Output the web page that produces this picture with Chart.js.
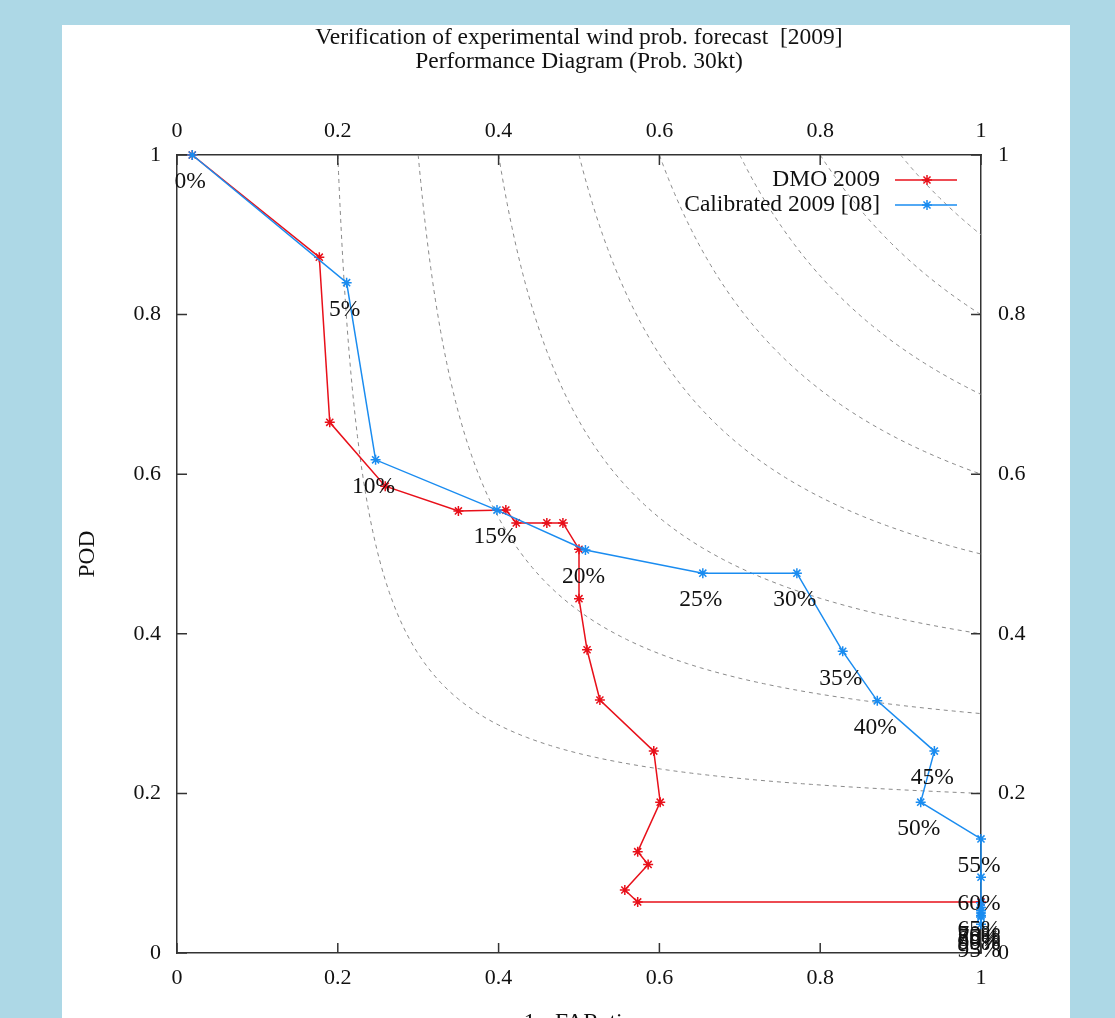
<!DOCTYPE html>
<html><head><meta charset="utf-8">
<script src="https://cdn.jsdelivr.net/npm/chart.js@4.4.1/dist/chart.umd.min.js"></script>
<style>html,body{margin:0;padding:0;background:#add8e6;overflow:hidden}canvas{display:block}</style>
</head><body>
<canvas id="c" width="1115" height="1018"></canvas>
<script>
const titleLines = ['Verification of experimental wind prob. forecast  [2009]', 'Performance Diagram (Prob. 30kt)'];
const xTitle = '1 - FARatio';
const yTitle = 'POD';
const tickValues = [0, 0.2, 0.4, 0.6, 0.8, 1];
const tickLabels = ['0', '0.2', '0.4', '0.6', '0.8', '1'];
const seriesNames = ['DMO 2009', 'Calibrated 2009 [08]'];
const seriesColors = ['#e8101a', '#1a8cf0'];
const dmoX = [0.019, 0.177, 0.190, 0.259, 0.350, 0.409, 0.422, 0.460, 0.480, 0.500, 0.500, 0.510, 0.526, 0.593, 0.601, 0.573, 0.586, 0.557, 0.573, 1.0];
const dmoY = [1.000, 0.872, 0.665, 0.585, 0.554, 0.555, 0.539, 0.539, 0.539, 0.506, 0.444, 0.380, 0.317, 0.253, 0.189, 0.127, 0.111, 0.079, 0.064, 0.064];
const calX = [0.019, 0.211, 0.247, 0.398, 0.508, 0.654, 0.771, 0.828, 0.871, 0.942, 0.925, 1.0, 1.0, 1.0, 1.0, 1.0, 1.0, 1.0, 1.0, 1.0];
const calY = [1.000, 0.840, 0.618, 0.555, 0.505, 0.476, 0.476, 0.378, 0.316, 0.253, 0.189, 0.143, 0.095, 0.063, 0.057, 0.053, 0.050, 0.047, 0.045, 0.036];
const calLabels = ['0%', '5%', '10%', '15%', '20%', '25%', '30%', '35%', '40%', '45%', '50%', '55%', '60%', '65%', '70%', '75%', '80%', '85%', '90%', '95%'];
const csiLevels = [0.2, 0.3, 0.4, 0.5, 0.6, 0.7, 0.8, 0.9];

const FONT = 'Liberation Serif';
const TXT = 23.5;
const toPts = (xs, ys) => xs.map((x, i) => ({x: x, y: ys[i]}));

// CSI isolines: POD = 1 / (1/CSI + 1 - 1/SR), SR from CSI to 1
function csiCurve(c) {
  const pts = [];
  const n = 120;
  for (let i = 0; i <= n; i++) {
    const t = i / n;
    const sr = c + (1 - c) * t * t;
    const pod = 1 / (1 / c + 1 - 1 / sr);
    pts.push({x: sr, y: pod});
  }
  return pts;
}

const datasets = [
  {
    label: seriesNames[1], data: toPts(calX, calY), showLine: true, clip: false,
    borderColor: seriesColors[1], backgroundColor: seriesColors[1], borderWidth: 1.5,
    pointStyle: 'star', pointRadius: 5, pointBorderWidth: 1.5, pointBorderColor: seriesColors[1],
    order: 0, xAxisID: 'x', yAxisID: 'y'
  },
  {
    label: seriesNames[0], data: toPts(dmoX, dmoY), showLine: true, clip: false,
    borderColor: seriesColors[0], backgroundColor: seriesColors[0], borderWidth: 1.5,
    pointStyle: 'star', pointRadius: 5, pointBorderWidth: 1.5, pointBorderColor: seriesColors[0],
    order: 1, xAxisID: 'x', yAxisID: 'y'
  }
];
csiLevels.forEach(c => datasets.push({
  label: 'CSI ' + c, data: csiCurve(c), showLine: true,
  borderColor: '#8a8a8a', borderWidth: 1, borderDash: [4, 4], pointRadius: 0,
  order: 5, xAxisID: 'x', yAxisID: 'y'
}));

const setTicks = s => { s.ticks = tickValues.map(v => ({value: v})); };
const tickCb = (v, i) => tickLabels[i];
const tickFont = {family: FONT, size: 22};
const border = {display: true, color: '#333', width: 1.5};

const bgPlugin = {
  id: 'bg',
  beforeDraw(chart) {
    const ctx = chart.ctx;
    ctx.save();
    ctx.fillStyle = '#add8e6';
    ctx.fillRect(0, 0, chart.width, chart.height);
    ctx.fillStyle = '#ffffff';
    ctx.fillRect(62, 25, 1008, chart.height - 25);
    ctx.restore();
  }
};

function drawStar(ctx, x, y, r, color) {
  ctx.strokeStyle = color;
  ctx.lineWidth = 1.5;
  ctx.beginPath();
  ctx.moveTo(x - r, y); ctx.lineTo(x + r, y);
  ctx.moveTo(x, y - r); ctx.lineTo(x, y + r);
  const d = r * 0.707;
  ctx.moveTo(x - d, y - d); ctx.lineTo(x + d, y + d);
  ctx.moveTo(x - d, y + d); ctx.lineTo(x + d, y - d);
  ctx.stroke();
}

const overlayPlugin = {
  id: 'overlay',
  afterDatasetsDraw(chart) {
    const ctx = chart.ctx;
    const a = chart.chartArea;
    const sx = chart.scales.x, sy = chart.scales.y;
    ctx.save();
    // inward tick marks
    ctx.strokeStyle = '#333';
    ctx.lineWidth = 1.5;
    ctx.beginPath();
    tickValues.forEach(v => {
      const px = sx.getPixelForValue(v);
      const py = sy.getPixelForValue(v);
      ctx.moveTo(px, a.bottom); ctx.lineTo(px, a.bottom - 10);
      ctx.moveTo(px, a.top); ctx.lineTo(px, a.top + 10);
      ctx.moveTo(a.left, py); ctx.lineTo(a.left + 10, py);
      ctx.moveTo(a.right, py); ctx.lineTo(a.right - 10, py);
    });
    ctx.stroke();
    // percentage labels for the calibrated series
    ctx.fillStyle = '#111';
    ctx.font = TXT + 'px "' + FONT + '"';
    ctx.textAlign = 'center';
    ctx.textBaseline = 'middle';
    const meta = chart.getDatasetMeta(0);
    meta.data.forEach((el, i) => {
      ctx.fillText(calLabels[i], el.x - 2, el.y + 27);
    });
    // legend
    const lx = 880, ly = [180, 205];
    [0, 1].forEach(k => {
      ctx.textAlign = 'right';
      ctx.fillStyle = '#111';
      ctx.fillText(seriesNames[k], lx, ly[k]);
      ctx.strokeStyle = seriesColors[k];
      ctx.lineWidth = 1.5;
      ctx.beginPath();
      ctx.moveTo(895, ly[k]); ctx.lineTo(957, ly[k]);
      ctx.stroke();
      drawStar(ctx, 927, ly[k], 5, seriesColors[k]);
    });
    ctx.restore();
  }
};

new Chart(document.getElementById('c'), {
  type: 'scatter',
  data: {datasets: datasets},
  plugins: [bgPlugin, overlayPlugin],
  options: {
    responsive: false,
    animation: false,
    devicePixelRatio: 1,
    events: [],
    layout: {padding: 0},
    plugins: {
      legend: {display: false},
      tooltip: {enabled: false},
      title: {
        display: true, text: titleLines, fullSize: false, color: '#111',
        font: {family: FONT, size: TXT, weight: 'normal', lineHeight: 24 / TXT},
        padding: {top: 26, bottom: 0}
      }
    },
    scales: {
      x: {
        type: 'linear', position: 'bottom', min: 0, max: 1,
        afterBuildTicks: setTicks,
        afterFit: s => { s.height = 65; },
        ticks: {callback: tickCb, font: tickFont, color: '#111', padding: 12, maxRotation: 0, autoSkip: false},
        grid: {display: false, drawTicks: false}, border: border,
        title: {display: true, text: xTitle, color: '#111', font: {family: FONT, size: TXT}, padding: {top: 0, bottom: -19}}
      },
      x2: {
        type: 'linear', position: 'top', min: 0, max: 1,
        afterBuildTicks: setTicks,
        afterFit: s => { s.height = 155 - 74; },
        ticks: {callback: tickCb, font: tickFont, color: '#111', padding: 11, maxRotation: 0, autoSkip: false},
        grid: {display: false, drawTicks: false}, border: border
      },
      y: {
        type: 'linear', position: 'left', min: 0, max: 1,
        afterBuildTicks: setTicks,
        afterFit: s => { s.width = 177; },
        ticks: {callback: tickCb, font: tickFont, color: '#111', padding: 16, autoSkip: false},
        grid: {display: false, drawTicks: false}, border: border,
        title: {display: true, text: yTitle, color: '#111', font: {family: FONT, size: TXT}, padding: {top: 74, bottom: 0}}
      },
      y2: {
        type: 'linear', position: 'right', min: 0, max: 1,
        afterBuildTicks: setTicks,
        afterFit: s => { s.width = 134; },
        ticks: {callback: tickCb, font: tickFont, color: '#111', padding: 17, autoSkip: false},
        grid: {display: false, drawTicks: false}, border: border
      }
    }
  }
});
</script>
</body></html>
